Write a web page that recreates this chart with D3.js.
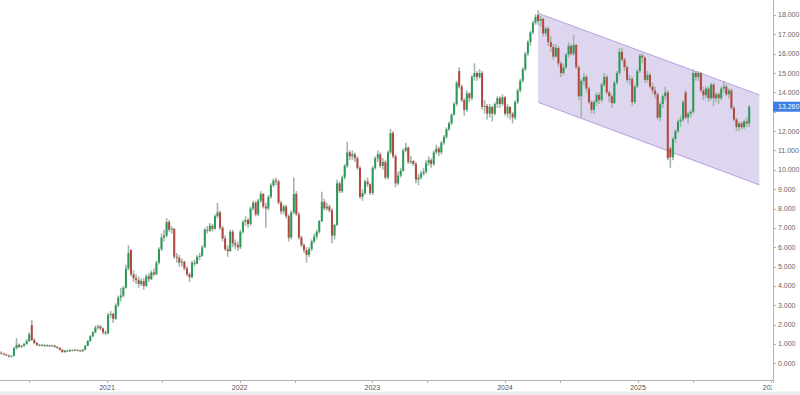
<!DOCTYPE html>
<html>
<head>
<meta charset="utf-8">
<script src="https://cdn.jsdelivr.net/npm/d3@7"></script>
<style>
  body { margin: 0; background: #fff; }
  svg { display: block; font-family: "Liberation Sans", Arial, sans-serif; }
</style>
</head>
<body>
<svg id="chart" width="800" height="395"></svg>
<script>
// weekly candles, [open, high, low, close], first week starts on firstWeek
var firstWeek = "2020-03-16";

var candles2020 = [
  [0.55,0.62,0.45,0.5],[0.5,0.55,0.42,0.45],[0.45,0.5,0.38,0.4],[0.4,0.45,0.3,0.35],
  [0.35,0.42,0.3,0.38],[0.38,0.85,0.35,0.78],[0.78,1.3,0.72,0.95],[0.95,1.02,0.8,0.85],
  [0.85,0.95,0.8,0.9],[0.9,1.05,0.85,1.0],[1.0,1.25,0.95,1.15],[1.15,1.6,1.1,1.5],
  [1.98,2.24,1.15,1.2],[1.2,1.3,1.0,1.05],[1.05,1.1,0.9,0.95],[0.95,1.0,0.88,0.92],
  [0.92,1.0,0.88,0.95],[0.95,0.98,0.85,0.9],[0.9,0.98,0.86,0.93],[0.93,0.96,0.84,0.88],
  [0.88,0.96,0.85,0.92],[0.92,0.95,0.8,0.85],[0.85,0.9,0.76,0.8],[0.8,0.84,0.66,0.7],
  [0.7,0.74,0.54,0.58],[0.58,0.7,0.55,0.65],[0.65,0.7,0.58,0.62],[0.62,0.72,0.6,0.68],
  [0.68,0.72,0.62,0.66],[0.66,0.74,0.62,0.7],[0.7,0.73,0.62,0.66],[0.66,0.7,0.58,0.62],
  [0.62,0.74,0.6,0.7],[0.7,0.95,0.68,0.9],[0.9,1.2,0.88,1.15],[1.15,1.45,1.1,1.4],
  [1.4,1.65,1.35,1.6],[1.6,1.95,1.55,1.85],[1.85,2.0,1.75,1.9],[1.9,1.98,1.7,1.8],
  [1.8,1.85,1.5,1.6],[1.6,1.7,1.45,1.55]
];

var candles2021 = [
  [1.55,2.6,1.5,2.5],[2.5,2.7,2.35,2.55],[2.55,2.6,2.1,2.3],[2.3,3.1,2.25,3.0],
  [3.0,3.5,2.9,3.4],[3.4,3.9,3.2,3.5],[3.5,4.0,3.4,3.9],[3.9,5.1,3.85,4.9],
  [4.9,6.1,4.8,5.7],[5.85,5.9,4.5,4.6],[4.6,4.8,4.2,4.4],[4.4,4.6,4.1,4.3],
  [4.3,4.5,3.9,4.1],[4.1,4.4,4.0,4.25],[4.25,4.4,3.8,4.0],[4.0,4.6,3.95,4.5],
  [4.5,4.65,4.2,4.35],[4.35,4.8,4.3,4.7],[4.7,4.9,4.5,4.6],[4.6,5.3,4.55,5.2],
  [5.2,6.0,5.1,5.9],[5.9,6.7,5.8,6.5],[6.5,6.9,6.3,6.6],[6.6,7.5,6.5,7.3],
  [7.3,7.4,6.8,6.9],[6.9,7.1,6.7,6.95],[6.95,7.0,5.4,5.5],[5.5,5.7,5.2,5.45],
  [5.45,5.6,5.0,5.2],[5.2,5.4,5.0,5.25],[5.25,5.3,4.8,4.9],[4.9,5.0,4.5,4.6],
  [4.6,4.7,4.2,4.45],[4.45,5.3,4.4,5.2],[5.2,5.35,5.0,5.15],[5.15,5.6,5.1,5.5],
  [5.5,5.7,5.35,5.55],[5.55,6.1,5.5,6.0],[6.0,7.0,5.95,6.9],[6.9,7.1,6.7,6.85],
  [6.85,7.25,6.8,7.1],[7.1,7.2,6.8,6.95],[6.95,7.7,6.9,7.6],[7.6,8.3,7.5,7.8],
  [7.8,7.9,6.9,7.0],[7.0,7.1,6.3,6.45],[6.45,6.6,5.8,5.9],[5.9,6.1,5.5,5.8],
  [5.8,6.9,5.75,6.8],[6.8,6.9,6.0,6.2],[6.2,6.4,5.9,6.1],[6.1,6.3,5.8,6.0]
];

var candles2022 = [
  [6.0,6.9,5.9,6.8],[6.8,7.4,6.7,7.3],[7.3,7.6,7.1,7.4],[7.4,7.5,7.0,7.2],
  [7.2,8.1,7.1,8.0],[8.0,8.4,7.9,8.3],[8.3,8.4,7.6,7.7],[7.7,8.5,7.6,8.4],
  [8.4,8.9,8.3,8.75],[8.75,8.8,8.0,8.1],[8.1,8.3,7.0,8.0],[8.0,8.7,7.9,8.6],
  [8.6,9.3,8.5,9.2],[9.2,9.55,9.1,9.45],[9.45,9.6,9.2,9.4],[9.4,9.5,8.2,8.3],
  [8.3,8.4,7.7,7.85],[7.85,8.2,7.7,8.1],[8.1,8.2,7.5,7.6],[7.6,7.7,6.3,6.5],
  [6.5,7.9,6.4,7.8],[7.8,9.6,7.7,8.75],[8.75,8.9,7.6,7.7],[7.7,7.8,6.4,6.5],
  [6.5,6.6,6.0,6.1],[6.1,6.2,5.7,5.85],[5.85,6.0,5.2,5.6],[5.6,6.0,5.5,5.9],
  [5.9,6.4,5.8,6.3],[6.3,6.7,6.2,6.55],[6.55,6.9,6.4,6.8],[6.8,7.4,6.7,7.35],
  [7.35,8.87,7.3,8.35],[8.35,8.5,7.9,8.0],[8.0,8.3,7.9,8.1],[8.1,8.2,7.8,7.9],
  [7.9,8.0,6.2,6.6],[6.6,7.2,6.4,7.15],[7.15,9.5,7.1,9.3],[9.3,9.4,8.8,8.9],
  [8.9,9.7,8.8,9.6],[9.6,10.3,9.5,10.2],[10.2,11.45,10.1,10.9],[10.9,11.0,10.5,10.7],
  [10.7,11.0,10.5,10.8],[10.8,10.9,10.4,10.6],[10.6,10.7,10.0,10.1],[10.1,10.2,8.5,8.6],
  [8.6,9.0,8.4,8.8],[8.8,9.5,8.7,9.4],[9.4,9.6,9.1,9.25],[9.25,9.3,8.7,8.8]
];

var candles2023 = [
  [8.8,10.2,8.7,10.1],[10.1,10.7,10.0,10.6],[10.6,11.0,10.4,10.8],[10.8,10.9,10.1,10.2],
  [10.2,10.6,10.0,10.4],[10.4,10.5,9.5,9.6],[9.6,11.0,9.5,10.9],[10.9,12.1,10.8,11.9],
  [11.9,12.0,10.6,10.7],[10.7,10.8,9.1,9.3],[9.3,9.9,9.2,9.7],[9.7,10.1,9.6,9.95],
  [9.95,11.1,9.9,11.0],[11.0,11.4,10.9,11.15],[11.15,11.2,10.3,10.4],[10.4,10.7,10.3,10.45],
  [10.45,10.5,10.2,10.3],[10.3,10.4,9.3,9.5],[9.5,9.8,9.2,9.6],[9.6,9.95,9.5,9.8],
  [9.8,10.1,9.7,9.9],[9.9,10.5,9.8,10.35],[10.35,10.7,10.2,10.5],[10.5,10.6,10.1,10.3],
  [10.3,11.0,10.2,10.9],[10.9,11.3,10.8,11.1],[11.1,11.2,10.7,10.9],[10.9,11.5,10.8,11.4],
  [11.4,11.8,11.3,11.7],[11.7,12.2,11.6,12.1],[12.1,12.5,12.0,12.4],[12.4,12.9,12.3,12.85],
  [12.85,13.5,12.8,13.4],[13.4,14.6,13.3,14.5],[15.1,15.3,14.2,14.3],[14.3,14.4,13.5,13.6],
  [13.6,13.7,12.8,13.1],[13.1,14.1,13.0,13.95],[13.95,14.0,13.5,13.7],[13.7,14.9,13.6,14.8],
  [14.8,15.5,14.6,15.0],[15.0,15.1,14.6,14.8],[14.8,15.2,14.7,15.0],[15.0,15.1,13.1,13.25],
  [13.25,13.6,12.9,13.3],[13.3,13.4,12.6,12.9],[12.9,13.4,12.7,13.25],[13.25,13.3,12.5,12.9],
  [12.9,13.5,12.8,13.4],[13.4,13.8,13.2,13.7],[13.7,13.8,13.2,13.4],[13.4,13.9,13.3,13.75]
];

var candles2024 = [
  [13.75,13.8,12.8,12.9],[12.9,13.4,12.7,13.25],[13.25,13.3,12.6,12.9],[12.9,13.0,12.4,12.7],
  [12.7,13.6,12.6,13.5],[13.5,14.2,13.4,14.1],[14.1,14.7,14.0,14.6],[14.6,15.3,14.5,15.2],
  [15.2,16.1,15.1,16.0],[16.0,16.7,15.9,16.6],[16.6,17.2,16.4,17.1],[17.1,17.7,17.0,17.6],
  [17.6,18.05,17.5,17.9],[18.0,18.25,17.5,17.7],[17.7,17.95,17.4,17.8],[17.8,17.85,16.9,17.05],
  [17.05,17.4,16.9,17.3],[17.3,17.4,16.4,16.6],[16.6,16.9,16.1,16.35],[16.35,16.5,15.7,15.85],
  [15.85,16.5,15.8,16.3],[16.3,16.4,15.3,15.5],[15.5,15.6,14.8,15.0],[15.0,15.5,14.9,15.3],
  [15.3,16.05,15.2,15.95],[15.95,16.6,15.8,16.4],[16.4,16.5,15.9,16.0],[16.0,16.97,15.9,16.45],
  [16.45,16.5,15.2,15.3],[15.3,15.4,13.6,13.8],[13.8,14.7,12.7,14.6],[14.6,15.0,14.4,14.8],
  [14.8,14.9,14.0,14.2],[14.2,14.3,13.4,13.5],[13.5,13.6,12.9,13.1],[13.1,13.6,12.9,13.5],
  [13.5,14.0,13.3,13.87],[13.87,14.0,13.4,13.6],[13.6,14.5,13.5,14.4],[14.4,15.0,14.3,14.8],
  [14.8,14.9,13.9,14.0],[14.0,14.1,13.5,13.8],[13.8,13.9,13.2,13.45],[13.45,14.6,13.4,14.5],
  [14.5,15.1,14.4,15.0],[15.0,16.3,14.9,16.1],[16.1,16.3,15.6,15.7],[15.7,15.8,15.1,15.3],
  [15.3,15.4,14.5,14.65],[14.65,14.9,14.4,14.7],[14.7,14.8,13.3,13.5],[13.5,14.4,13.4,14.3],
  [14.3,15.2,14.2,15.1]
];

var candles2025 = [
  [15.1,16.0,15.0,15.9],[15.9,16.0,15.5,15.8],[15.8,15.85,14.5,14.65],[14.65,15.1,14.5,14.9],
  [14.9,15.0,14.2,14.3],[14.3,14.5,13.9,14.1],[14.1,14.3,13.7,13.9],[13.9,14.0,12.6,12.7],
  [12.7,13.5,12.5,13.4],[13.4,13.9,13.2,13.8],[13.8,14.3,13.6,14.0],[14.0,14.1,10.5,10.6],
  [11.1,11.2,10.1,10.65],[10.65,11.7,10.5,11.6],[11.6,12.1,11.4,12.0],[12.0,12.6,11.9,12.5],
  [12.5,12.8,12.2,12.6],[12.6,13.6,12.5,13.5],[14.0,14.1,12.6,12.7],[12.7,13.0,12.4,12.9],
  [12.9,13.1,12.7,13.0],[13.0,15.2,12.9,15.0],[15.0,15.1,14.6,14.8],[14.8,15.1,14.6,15.0],
  [15.0,15.05,14.0,14.1],[14.1,14.3,13.6,13.85],[13.85,14.3,13.7,14.2],[14.2,14.3,13.5,13.7],
  [13.7,14.5,13.6,14.4],[14.4,14.5,13.3,13.7],[13.7,14.0,13.5,13.9],[13.9,14.0,13.4,13.7],
  [13.7,14.3,13.6,14.2],[14.2,14.6,14.0,14.3],[14.3,14.4,13.8,13.9],[13.9,14.2,13.7,14.1],
  [14.1,14.2,13.1,13.2],[13.2,13.3,12.5,12.6],[12.6,12.7,12.0,12.2],[12.2,12.5,12.0,12.4],
  [12.4,12.5,12.1,12.2],[12.2,12.6,12.1,12.5],[12.5,12.7,12.2,12.4],[12.4,13.35,12.2,13.26]
];

var priceTicks = [0,1,2,3,4,5,6,7,8,9,10,11,12,13,14,15,16,17,18];
var yearTicks = ["2021-01-01","2022-01-01","2023-01-01","2024-01-01","2025-01-01","2026-01-01"];
var midTicks = ["2020-06-01","2021-06-01","2022-06-01","2023-06-01","2024-06-01","2025-06-01"];

// falling channel drawn over the last part
var channelDates = ["2024-04-01","2025-12-01"];
var channelTop = [18.09, 13.87];
var channelBottom = [13.49, 9.22];

var lastPrice = 13.26;

var parse = d3.timeParse("%Y-%m-%d");
var axisX = 773, axisY = 380;

var svg = d3.select("#chart");

var x = d3.scaleTime()
    .domain([parse("2021-01-01"), parse("2025-01-01")])
    .range([107, 638]);
var y = d3.scaleLinear().domain([0, 18]).range([363.3, 15]);

var start = parse(firstWeek);
var candles = [].concat(candles2020, candles2021, candles2022, candles2023, candles2024, candles2025)
  .map(function(c, i) {
    return {date: d3.timeWeek.offset(start, i), o: c[0], h: c[1], l: c[2], c: c[3]};
  });

svg.append("defs").append("clipPath").attr("id", "plot")
  .append("rect").attr("x", 0).attr("y", 0).attr("width", axisX).attr("height", axisY);

var plot = svg.append("g").attr("clip-path", "url(#plot)");

// channel
var cd = channelDates.map(parse);
var poly = [
  [x(cd[0]), y(channelTop[0])], [x(cd[1]), y(channelTop[1])],
  [x(cd[1]), y(channelBottom[1])], [x(cd[0]), y(channelBottom[0])]
];
plot.append("polygon")
  .attr("points", poly.map(function(p) { return p.join(","); }).join(" "))
  .attr("fill", "rgba(160,142,208,0.36)")
  .attr("stroke", "none");
plot.append("line")
  .attr("x1", poly[0][0]).attr("y1", poly[0][1]).attr("x2", poly[1][0]).attr("y2", poly[1][1])
  .attr("stroke", "#b79fe0").attr("stroke-width", 1);
plot.append("line")
  .attr("x1", poly[3][0]).attr("y1", poly[3][1]).attr("x2", poly[2][0]).attr("y2", poly[2][1])
  .attr("stroke", "#b79fe0").attr("stroke-width", 1);

// candles
var bw = 2;
plot.selectAll(".wick").data(candles).enter().append("line")
  .attr("class", "wick")
  .attr("x1", function(d) { return x(d.date); })
  .attr("x2", function(d) { return x(d.date); })
  .attr("y1", function(d) { return y(d.h); })
  .attr("y2", function(d) { return y(d.l); })
  .attr("stroke", "#a4b6aa")
  .attr("stroke-width", 1.6);

plot.selectAll(".body").data(candles).enter().append("rect")
  .attr("class", "body")
  .attr("x", function(d) { return x(d.date) - bw / 2; })
  .attr("width", bw)
  .attr("y", function(d) { return y(Math.max(d.o, d.c)); })
  .attr("height", function(d) { return Math.max(0.8, Math.abs(y(d.o) - y(d.c))); })
  .attr("fill", function(d) { return d.c >= d.o ? "#2a9a5c" : "#b5463e"; });

// bottom band
svg.append("rect").attr("x", 0).attr("y", 391.5).attr("width", 800).attr("height", 4).attr("fill", "#ececec");

// x axis
svg.append("line").attr("x1", 0).attr("x2", axisX).attr("y1", axisY + 0.5).attr("y2", axisY + 0.5)
  .attr("stroke", "#b3b3b3");

svg.append("defs").append("clipPath").attr("id", "xlab")
  .append("rect").attr("x", 0).attr("y", axisY).attr("width", axisX - 1).attr("height", 12);

var xg = svg.append("g").attr("clip-path", "url(#xlab)");
xg.selectAll(".ytick").data(yearTicks.concat(midTicks)).enter().append("line")
  .attr("x1", function(d) { return Math.round(x(parse(d))) + 0.5; })
  .attr("x2", function(d) { return Math.round(x(parse(d))) + 0.5; })
  .attr("y1", axisY).attr("y2", axisY + 3)
  .attr("stroke", "#b3b3b3");
xg.selectAll(".ylab").data(yearTicks).enter().append("text")
  .attr("x", function(d) { return x(parse(d)); })
  .attr("y", axisY + 10)
  .attr("text-anchor", "middle")
  .attr("font-size", 7)
  .attr("fill", "#555")
  .text(function(d) { return d.slice(0, 4); });

// price axis
svg.append("line").attr("x1", axisX + 0.5).attr("x2", axisX + 0.5).attr("y1", 0).attr("y2", axisY + 3)
  .attr("stroke", "#b3b3b3");
// the tick hidden under the last-price marker gets no label
var shownTicks = priceTicks.filter(function(d) { return Math.abs(y(d) - y(lastPrice)) > 8; });
var yg = svg.append("g");
yg.selectAll("line").data(priceTicks).enter().append("line")
  .attr("x1", axisX).attr("x2", axisX + 3)
  .attr("y1", function(d) { return Math.round(y(d)) + 0.5; })
  .attr("y2", function(d) { return Math.round(y(d)) + 0.5; })
  .attr("stroke", "#b3b3b3");
yg.selectAll("text").data(shownTicks).enter().append("text")
  .attr("x", axisX + 5)
  .attr("y", function(d) { return y(d); })
  .attr("dy", "0.35em")
  .attr("font-size", 7)
  .attr("fill", "#666")
  .text(function(d) { return d3.format(".3f")(d); });

// last price marker
svg.append("rect")
  .attr("x", axisX).attr("y", y(lastPrice) - 5)
  .attr("width", 800 - axisX).attr("height", 10)
  .attr("fill", "#3d7fe6");
svg.append("text")
  .attr("x", axisX + 5).attr("y", y(lastPrice))
  .attr("dy", "0.35em")
  .attr("font-size", 7)
  .attr("fill", "#fff")
  .text(d3.format(".3f")(lastPrice));
</script>
</body>
</html>
